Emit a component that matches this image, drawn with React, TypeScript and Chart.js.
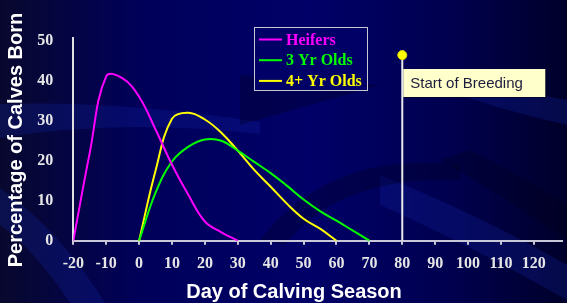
import React, { useEffect, useRef } from 'react';
import { Chart, registerables } from 'chart.js';

Chart.register(...registerables);

// ---- Data ----
const heiferDays = [-20, -15, -10, -5, 0, 5, 10, 15, 20, 25, 30];
const heiferPct = [0, 22, 41.1, 40.6, 36, 27.8, 19, 11.4, 4.8, 2.1, 0];

const threeYrDays = [0, 5, 10, 15, 20, 25, 30, 35, 40, 45, 50, 55, 60, 65, 70];
const threeYrPct = [0, 12, 19.8, 23.5, 25.3, 25, 22.5, 19.7, 16.9, 13.7, 10.3, 7.4, 5, 2.5, 0];

const fourYrDays = [0, 5, 10, 15, 20, 25, 30, 35, 40, 45, 50, 55, 60];
const fourYrPct = [0, 17.5, 30.5, 32, 30.3, 27, 22.5, 17.7, 13.5, 9.2, 5.5, 3, 0];

const seriesLabels = ['Heifers', '3 Yr Olds', '4+ Yr Olds'];
const seriesColors = ['#ff00ff', '#00ff00', '#ffff00'];

const breedingDay = 80;
const breedingMarkerLevel = 46.4;
const breedingLabel = 'Start of Breeding';

const xMin = -20;
const xMax = 128.4;
const xStep = 10;
const yMin = 0;
const yMax = 50.75;
const yStep = 10;

const xTitle = 'Day of Calving Season';
const yTitle = 'Percentage of Calves Born';

const toPoints = (xs: number[], ys: number[]) => xs.map((x, i) => ({ x, y: ys[i] }));

const serif = "'Liberation Serif', 'Times New Roman', serif";
const sans = "'Liberation Sans', Arial, sans-serif";

const backgroundPlugin = {
  id: 'slideBackground',
  beforeDraw(chart: any) {
    const { ctx, width, height } = chart;
    ctx.save();
    const g = ctx.createLinearGradient(0, 0, width, 0);
    g.addColorStop(0, '#08082e');
    g.addColorStop(0.25, '#00005a');
    g.addColorStop(0.55, '#000068');
    g.addColorStop(0.8, '#00004e');
    g.addColorStop(1, '#00002a');
    ctx.fillStyle = g;
    ctx.fillRect(0, 0, width, height);

    // lighter swooshes
    ctx.fillStyle = 'rgba(20, 40, 170, 0.25)';
    ctx.beginPath();
    ctx.moveTo(0, 104);
    ctx.quadraticCurveTo(120, 100, 260, 122);
    ctx.lineTo(260, 134);
    ctx.quadraticCurveTo(120, 118, 0, 138);
    ctx.closePath();
    ctx.fill();

    ctx.beginPath();
    ctx.moveTo(0, 188);
    ctx.quadraticCurveTo(60, 230, 105, 303);
    ctx.lineTo(70, 303);
    ctx.quadraticCurveTo(35, 250, 0, 225);
    ctx.closePath();
    ctx.fill();

    ctx.beginPath();
    ctx.moveTo(440, 70);
    ctx.quadraticCurveTo(510, 90, 567, 100);
    ctx.lineTo(567, 125);
    ctx.quadraticCurveTo(500, 110, 430, 85);
    ctx.closePath();
    ctx.fill();

    ctx.beginPath();
    ctx.moveTo(380, 175);
    ctx.quadraticCurveTo(480, 215, 567, 265);
    ctx.lineTo(567, 300);
    ctx.quadraticCurveTo(470, 245, 380, 205);
    ctx.closePath();
    ctx.fill();

    // darker swooshes
    ctx.fillStyle = 'rgba(0, 0, 25, 0.3)';
    ctx.beginPath();
    ctx.moveTo(240, 75);
    ctx.lineTo(380, 85);
    ctx.lineTo(240, 125);
    ctx.closePath();
    ctx.fill();

    ctx.beginPath();
    ctx.moveTo(260, 240);
    ctx.quadraticCurveTo(330, 150, 460, 165);
    ctx.lineTo(460, 180);
    ctx.quadraticCurveTo(340, 175, 285, 245);
    ctx.closePath();
    ctx.fill();

    ctx.beginPath();
    ctx.moveTo(470, 150);
    ctx.quadraticCurveTo(520, 175, 567, 205);
    ctx.lineTo(567, 240);
    ctx.quadraticCurveTo(510, 200, 440, 160);
    ctx.closePath();
    ctx.fill();
    ctx.restore();
  },
};

const overlayPlugin = {
  id: 'slideOverlay',
  afterDraw(chart: any) {
    const { ctx } = chart;
    const xs = chart.scales.x;
    ctx.save();

    // Legend
    const lx = 254, ly = 27, lw = 113, lh = 63;
    ctx.fillStyle = '#000066';
    ctx.fillRect(lx, ly, lw, lh);
    ctx.strokeStyle = '#c8c8d0';
    ctx.lineWidth = 1;
    ctx.strokeRect(lx + 0.5, ly + 0.5, lw, lh);
    ctx.font = `bold 16px ${serif}`;
    ctx.textBaseline = 'middle';
    ctx.textAlign = 'left';
    seriesLabels.forEach((label, i) => {
      const cy = 39.5 + i * 20.7;
      ctx.strokeStyle = seriesColors[i];
      ctx.lineWidth = 2;
      ctx.beginPath();
      ctx.moveTo(259, cy);
      ctx.lineTo(282, cy);
      ctx.stroke();
      ctx.fillStyle = seriesColors[i];
      ctx.fillText(label, 286, cy + 1);
    });

    // Breeding label box
    const bx = xs.getPixelForValue(breedingDay) + 1;
    const by = 69, bw = 142, bh = 28;
    ctx.fillStyle = 'rgba(0,0,20,0.5)';
    ctx.fillRect(bx + 1, by + 1, bw, bh);
    ctx.fillStyle = '#ffffcc';
    ctx.fillRect(bx, by, bw, bh);
    ctx.fillStyle = '#1c1c3c';
    ctx.font = `15px ${sans}`;
    ctx.textBaseline = 'middle';
    ctx.fillText(breedingLabel, bx + 7, by + bh / 2 + 0.5);

    // Axis titles
    ctx.fillStyle = '#ffffff';
    ctx.font = `bold 20px ${sans}`;
    ctx.textAlign = 'center';
    ctx.fillText(xTitle, 294, 292);
    ctx.translate(16, 140);
    ctx.rotate(-Math.PI / 2);
    ctx.fillText(yTitle, 0, 0);
    ctx.restore();
  },
};

export default function App() {
  const canvasRef = useRef<HTMLCanvasElement | null>(null);

  useEffect(() => {
    if (!canvasRef.current) return;
    const lineDefaults = {
      borderWidth: 2,
      pointRadius: 0,
      tension: 0.4,
      fill: false,
    };
    const chart = new Chart(canvasRef.current, {
      type: 'line',
      data: {
        datasets: [
          {
            label: seriesLabels[0],
            data: toPoints(heiferDays, heiferPct),
            borderColor: seriesColors[0],
            ...lineDefaults,
          },
          {
            label: seriesLabels[1],
            data: toPoints(threeYrDays, threeYrPct),
            borderColor: seriesColors[1],
            ...lineDefaults,
          },
          {
            label: seriesLabels[2],
            data: toPoints(fourYrDays, fourYrPct),
            borderColor: seriesColors[2],
            ...lineDefaults,
          },
          {
            label: breedingLabel,
            data: [
              { x: breedingDay, y: 0 },
              { x: breedingDay, y: breedingMarkerLevel },
            ],
            borderColor: '#e8e8e8',
            borderWidth: 2,
            tension: 0,
            pointRadius: [0, 4.5],
            pointBackgroundColor: '#ffff00',
            pointBorderColor: '#e8e000',
            pointBorderWidth: 1,
            fill: false,
          },
        ],
      },
      options: {
        animation: false,
        responsive: false,
        maintainAspectRatio: false,
        layout: { padding: { top: 37.7, left: 0, right: 0, bottom: 0 } },
        plugins: {
          legend: { display: false },
          tooltip: { enabled: false },
          title: { display: false },
        },
        scales: {
          x: {
            type: 'linear',
            min: xMin,
            max: xMax,
            afterFit: (scale: any) => {
              scale.height = 62.3;
              scale.paddingLeft = 0;
              scale.paddingRight = 0;
            },
            ticks: {
              stepSize: xStep,
              includeBounds: false,
              autoSkip: false,
              maxRotation: 0,
              padding: 0,
              color: '#e6e6e6',
              font: { family: serif, size: 16, weight: 'bold', lineHeight: 2.45 },
            },
            grid: {
              display: true,
              drawOnChartArea: false,
              drawTicks: true,
              tickLength: 4,
              color: '#c8c8d8',
              lineWidth: 2,
            },
            border: { display: true, color: '#c8c8d8', width: 2 },
          },
          y: {
            type: 'linear',
            min: yMin,
            max: yMax,
            afterFit: (scale: any) => {
              scale.width = 73.3;
              scale.paddingTop = 0;
              scale.paddingBottom = 0;
            },
            ticks: {
              stepSize: yStep,
              includeBounds: false,
              padding: 12,
              color: '#e6e6e6',
              font: { family: serif, size: 16, weight: 'bold' },
            },
            grid: { display: false },
            border: { display: true, color: '#e0e0e0', width: 2 },
          },
        },
      },
      plugins: [backgroundPlugin, overlayPlugin],
    } as any);
    return () => chart.destroy();
  }, []);

  return (
    <div style={{ position: 'fixed', left: 0, top: 0, width: 567, height: 303 }}>
      <canvas ref={canvasRef} width={567} height={303} style={{ display: 'block' }} />
    </div>
  );
}
